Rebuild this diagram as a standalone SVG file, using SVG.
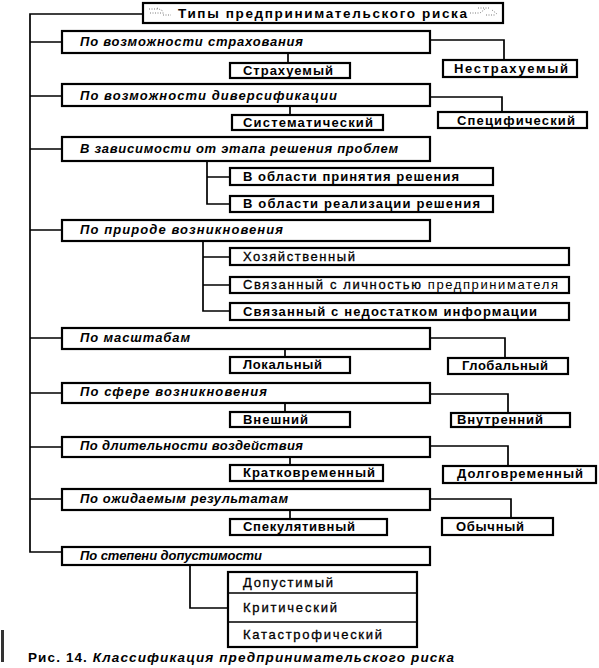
<svg xmlns="http://www.w3.org/2000/svg" width="599" height="668" viewBox="0 0 599 668">
<style>
  .box{fill:#fff;stroke:#000;stroke-width:2.2}
  .ln{fill:none;stroke:#000;stroke-width:1.7}
  .cat{font-family:"Liberation Sans",Arial,sans-serif;font-size:13px;font-style:italic;font-weight:bold;fill:#000}
  .ch{font-family:"Liberation Sans",Arial,sans-serif;font-size:13px;font-weight:bold;fill:#000}
  .chn{font-family:"Liberation Sans",Arial,sans-serif;font-size:13px;font-weight:normal;fill:#000;stroke:#000;stroke-width:0.3}
  .ttl{font-family:"Liberation Sans",Arial,sans-serif;font-size:13.5px;font-weight:bold;fill:#000}
  .cap{font-family:"Liberation Sans",Arial,sans-serif;font-size:13.5px;font-weight:bold;fill:#000}
  .noise{fill:none;stroke:#555;stroke-width:0.8;stroke-dasharray:1 1.5}
</style>
<rect width="599" height="668" fill="#fff"/>

<g id="connectors">
  <path class="ln" d="M143,14 H30 V552 H62"/>
  <path class="ln" d="M30,42 H62 M30,96 H62 M30,149 H62 M30,230 H62 M30,338 H62 M30,393 H62 M30,447 H62 M30,499 H62"/>
  <path class="ln" d="M430,40 H504 V60"/>
  <path class="ln" d="M430,97 H502 V112"/>
  <path class="ln" d="M430,338 H505 V358"/>
  <path class="ln" d="M430,394 H508 V413"/>
  <path class="ln" d="M430,446 H508 V466"/>
  <path class="ln" d="M430,499 H511 V518"/>
  <path class="ln" d="M288,53 V63 M290,106 V115 M285,349 V357 M285,403 V412 M290,457 V465 M290,510 V519"/>
  <path class="ln" d="M207,161 V204 H230 M207,177 H230"/>
  <path class="ln" d="M203,241 V311 H230 M203,257 H230 M203,285 H230"/>
  <path class="ln" d="M190,565 V608 H228"/>
</g>

<g id="title">
  <rect class="box" x="143" y="3" width="360" height="20"/>
  <text class="ttl" x="178" y="18" textLength="289" lengthAdjust="spacing">Типы предпринимательского риска</text>
  <path class="noise" d="M149,9 h10 M150,13 h14 M157,8 l6,3 M163,15 h8 M470,13 h10 l5,-4 M478,8 h12 M486,15 h10 M492,10 l5,4"/>
</g>

<g id="cat1">
  <rect class="box" x="62" y="31" width="368" height="22"/>
  <text class="cat" x="80" y="46" textLength="223" lengthAdjust="spacing">По возможности страхования</text>
</g>
<g id="c1a"><rect class="box" x="230" y="63" width="120" height="15"/><text class="ch" x="243" y="75" textLength="90" lengthAdjust="spacing">Страхуемый</text></g>
<g id="c1b"><rect class="box" x="443" y="60" width="134" height="17"/><text class="ch" x="454" y="73" textLength="114" lengthAdjust="spacing">Нестрахуемый</text></g>

<g id="cat2">
  <rect class="box" x="62" y="84" width="368" height="22"/>
  <text class="cat" x="80" y="100" textLength="257" lengthAdjust="spacing">По возможности диверсификации</text>
</g>
<g id="c2a"><rect class="box" x="232" y="115" width="151" height="15"/><text class="ch" x="243" y="127" textLength="130" lengthAdjust="spacing">Систематический</text></g>
<g id="c2b"><rect class="box" x="438" y="112" width="149" height="16"/><text class="ch" x="457" y="125" textLength="118" lengthAdjust="spacing">Специфический</text></g>

<g id="cat3">
  <rect class="box" x="62" y="137" width="368" height="24"/>
  <text class="cat" x="80" y="153" textLength="318" lengthAdjust="spacing">В зависимости от этапа решения проблем</text>
</g>
<g id="c3a"><rect class="box" x="230" y="168" width="263" height="17"/><text class="ch" x="243" y="181" textLength="216" lengthAdjust="spacing">В области принятия решения</text></g>
<g id="c3b"><rect class="box" x="230" y="196" width="263" height="16"/><text class="ch" x="243" y="208" textLength="237" lengthAdjust="spacing">В области реализации решения</text></g>

<g id="cat4">
  <rect class="box" x="62" y="220" width="368" height="21"/>
  <text class="cat" x="80" y="234" textLength="203" lengthAdjust="spacing">По природе возникновения</text>
</g>
<g id="c4a"><rect class="box" x="230" y="248" width="339" height="17"/><text class="chn" x="243" y="261" textLength="112" lengthAdjust="spacing">Хозяйственный</text></g>
<g id="c4b"><rect class="box" x="230" y="277" width="339" height="16"/><text class="chn" x="243" y="289" textLength="315" lengthAdjust="spacing">Связанный с личностью <tspan style="stroke-width:0">предпринимателя</tspan></text></g>
<g id="c4c"><rect class="box" x="230" y="303" width="339" height="17"/><text class="ch" x="243" y="316" textLength="294" lengthAdjust="spacing">Связанный с недостатком информации</text></g>

<g id="cat5">
  <rect class="box" x="62" y="328" width="368" height="21"/>
  <text class="cat" x="80" y="342" textLength="110" lengthAdjust="spacing">По масштабам</text>
</g>
<g id="c5a"><rect class="box" x="230" y="357" width="120" height="16"/><text class="ch" x="243" y="369" textLength="79" lengthAdjust="spacing">Локальный</text></g>
<g id="c5b"><rect class="box" x="448" y="358" width="120" height="16"/><text class="ch" x="462" y="370" textLength="86" lengthAdjust="spacing">Глобальный</text></g>

<g id="cat6">
  <rect class="box" x="62" y="383" width="368" height="20"/>
  <text class="cat" x="80" y="396" textLength="187" lengthAdjust="spacing">По сфере возникновения</text>
</g>
<g id="c6a"><rect class="box" x="230" y="412" width="120" height="15"/><text class="ch" x="243" y="424" textLength="65" lengthAdjust="spacing">Внешний</text></g>
<g id="c6b"><rect class="box" x="451" y="413" width="119" height="14"/><text class="ch" x="457" y="424" textLength="86" lengthAdjust="spacing">Внутренний</text></g>

<g id="cat7">
  <rect class="box" x="62" y="437" width="368" height="20"/>
  <text class="cat" x="80" y="450" textLength="223" lengthAdjust="spacing">По длительности воздействия</text>
</g>
<g id="c7a"><rect class="box" x="230" y="465" width="153" height="16"/><text class="ch" x="243" y="477" textLength="132" lengthAdjust="spacing">Кратковременный</text></g>
<g id="c7b"><rect class="box" x="443" y="466" width="153" height="17"/><text class="ch" x="457" y="478" textLength="126" lengthAdjust="spacing">Долговременный</text></g>

<g id="cat8">
  <rect class="box" x="62" y="489" width="368" height="21"/>
  <text class="cat" x="80" y="503" textLength="208" lengthAdjust="spacing">По ожидаемым результатам</text>
</g>
<g id="c8a"><rect class="box" x="230" y="519" width="157" height="16"/><text class="ch" x="243" y="531" textLength="112" lengthAdjust="spacing">Спекулятивный</text></g>
<g id="c8b"><rect class="box" x="442" y="518" width="111" height="17"/><text class="ch" x="456" y="531" textLength="68" lengthAdjust="spacing">Обычный</text></g>

<g id="cat9">
  <rect class="box" x="62" y="547" width="368" height="18"/>
  <text class="cat" x="80" y="560" textLength="182" lengthAdjust="spacing">По степени допустимости</text>
</g>
<g id="c9">
  <rect class="box" x="228" y="572" width="189" height="75"/>
  <path class="ln" d="M228,593 H417 M228,622 H417" style="stroke-width:1.4"/>
  <text class="chn" x="243" y="587" textLength="90" lengthAdjust="spacing">Допустимый</text>
  <text class="chn" x="243" y="612" textLength="94" lengthAdjust="spacing">Критический</text>
  <text class="chn" x="243" y="639" textLength="139" lengthAdjust="spacing">Катастрофический</text>
</g>

<rect x="1" y="630" width="3" height="32" fill="#333"/>
<text class="cap" x="28" y="662" textLength="426" lengthAdjust="spacing">Рис. 14. <tspan font-style="italic">Классификация предпринимательского риска</tspan></text>
</svg>
